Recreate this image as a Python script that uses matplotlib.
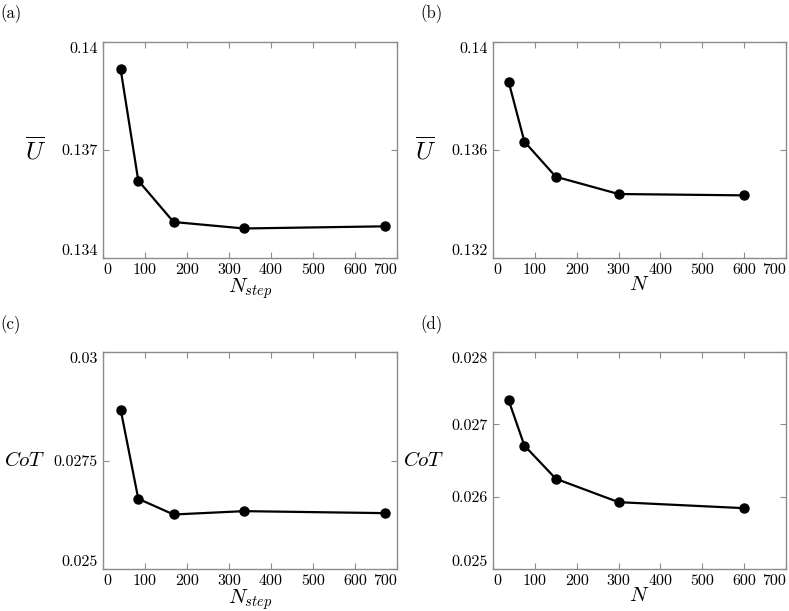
import numpy as np
import matplotlib
matplotlib.use('Agg')
import matplotlib.pyplot as plt

plt.rcParams['font.family'] = 'serif'
plt.rcParams['font.serif'] = ['cmr10']
plt.rcParams['mathtext.fontset'] = 'cm'
plt.rcParams['axes.unicode_minus'] = False

# data
n_step = [42, 84, 168, 336, 672]
u_step = [0.13924, 0.13615, 0.13500, 0.13482, 0.13488]
cot_step = [0.028675, 0.026618, 0.026256, 0.026333, 0.026287]

n_pts = [37.5, 75, 150, 300, 600]
u_n = [0.13852, 0.13631, 0.13501, 0.13437, 0.13432]
cot_n = [0.02733, 0.026706, 0.026248, 0.025924, 0.025841]

yticks_a = [0.134, 0.137, 0.14]
ylabels_a = ['0.134', '0.137', '0.14']
yticks_b = [0.132, 0.136, 0.14]
ylabels_b = ['0.132', '0.136', '0.14']
yticks_c = [0.025, 0.0275, 0.03]
ylabels_c = ['0.025', '0.0275', '0.03']
yticks_d = [0.025, 0.026, 0.027, 0.028]
ylabels_d = ['0.025', '0.026', '0.027', '0.028']

W, H = 789, 611
fig = plt.figure(figsize=(W / 100, H / 100), dpi=100)

def px_axes(x0, y0, x1, y1):
    return fig.add_axes([x0 / W, 1 - y1 / H, (x1 - x0) / W, (y1 - y0) / H])

frame = '#8c8c8c'

def draw(ax, x, y, yticks, ylabels, xlabel, ylabel, ylab_x, ysize):
    ax.plot(x, y, color='black', lw=1.6, marker='o', ms=6.5)
    ax.set_xlim(0, 700)
    ax.set_ylim(yticks[0], yticks[-1])
    ax.set_xticks(np.arange(0, 701, 100))
    ax.set_yticks(yticks)
    ax.set_yticklabels(ylabels)
    ax.tick_params(direction='in', top=True, right=True, length=4,
                   color=frame, labelsize=11.5, pad=4)
    # edge labels pulled inside, like the original
    xl = ax.get_xticklabels()
    xl[0].set_ha('left')
    xl[-1].set_ha('right')
    yl = ax.get_yticklabels()
    yl[0].set_va('bottom')
    yl[-1].set_va('top')
    for s in ax.spines.values():
        s.set_color(frame)
        s.set_linewidth(1.0)
    ax.set_xlabel(xlabel, fontsize=15, labelpad=-1)
    ax.set_ylabel(ylabel, fontsize=ysize, rotation=0, va='center', ha='center')
    ax.yaxis.set_label_coords(ylab_x, 0.5)

ax_a = px_axes(103, 42, 397, 258)
draw(ax_a, n_step, u_step, yticks_a, ylabels_a, r'$N_{step}$', r'$\overline{U}$', -0.23, 18)
ax_b = px_axes(493, 42, 786, 258)
draw(ax_b, n_pts, u_n, yticks_b, ylabels_b, r'$N$', r'$\overline{U}$', -0.23, 18)
ax_c = px_axes(103, 352, 397, 569)
draw(ax_c, n_step, cot_step, yticks_c, ylabels_c, r'$N_{step}$', r'$CoT$', -0.265, 15)
ax_d = px_axes(493, 352, 786, 569)
draw(ax_d, n_pts, cot_n, yticks_d, ylabels_d, r'$N$', r'$CoT$', -0.235, 15)

for lab, x, y in [('(a)', 0, 14), ('(b)', 420, 14), ('(c)', 0, 325), ('(d)', 420, 325)]:
    fig.text(x / W, 1 - y / H, lab, fontsize=12, ha='left', va='center')

fig.savefig('out.png', dpi=100)
